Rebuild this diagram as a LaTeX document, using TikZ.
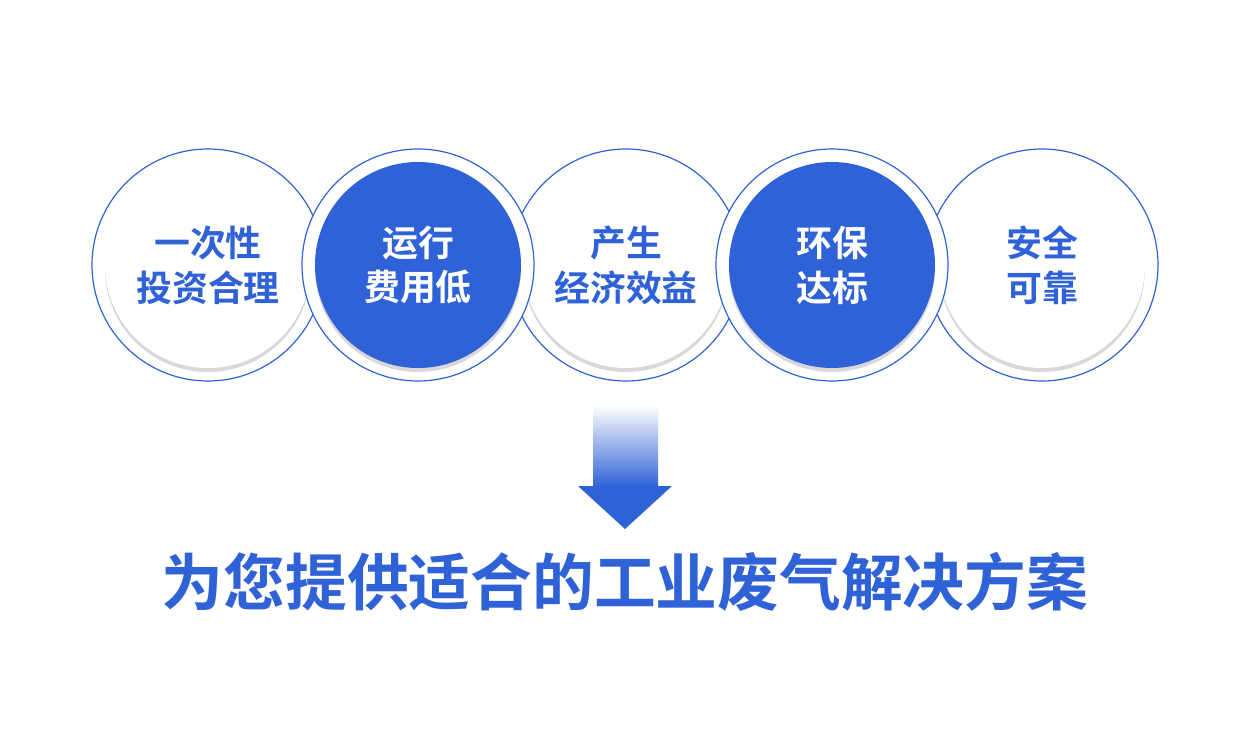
\documentclass[tikz,border=0pt]{standalone}
\usepackage{fontspec}
\newfontfamily\cjk{Noto Sans CJK SC}[BoldFont={Noto Sans CJK SC Bold}]
\usetikzlibrary{shadows,fadings}
\definecolor{mblue}{HTML}{2F62D6}
\begin{document}
\begin{tikzpicture}[x=1bp,y=-1bp,
  ring/.style={circle,draw=mblue,line width=1.2bp,fill=white,minimum size=232bp,inner sep=0pt},
  innerw/.style={circle,fill=white,minimum size=206bp,inner sep=0pt,drop shadow={shadow xshift=0bp,shadow yshift=-4bp,opacity=0.25,fill=black!60}},
  innerb/.style={innerw,fill=mblue},
  lbl/.style={font=\cjk\bfseries\fontsize{36}{45}\selectfont,align=center,text=mblue},
  lblw/.style={lbl,text=white}]
\useasboundingbox (0,0) rectangle (1250,740);
\fill[white] (0,0) rectangle (1250,740);
\foreach \x/\n in {208/r1,626/r3,1042/r5}{
  \node[ring] (\n) at (\x,265) {};
  \node[innerw] (i\n) at (\x,265) {};}
\foreach \x/\n in {418/r2,832/r4}{
  \node[ring] (\n) at (\x,265) {};
  \node[innerb] (i\n) at (\x,265) {};}
\node[lbl] (t1) at (208,265) {一次性\\投资合理};
\node[lblw] (t2) at (418,265) {运行\\费用低};
\node[lbl] (t3) at (626,265) {产生\\经济效益};
\node[lblw] (t4) at (832,265) {环保\\达标};
\node[lbl] (t5) at (1042,265) {安全\\可靠};
\shade[top color=white,bottom color=mblue,shading angle=0] (593,405) rectangle (658,487);
\fill[mblue] (578,486) -- (672,486) -- (625,529) -- cycle;
\node[font=\cjk\bfseries\fontsize{62}{70}\selectfont,text=mblue] (bottom) at (625,582) {为您提供适合的工业废气解决方案};
\end{tikzpicture}
\end{document}
